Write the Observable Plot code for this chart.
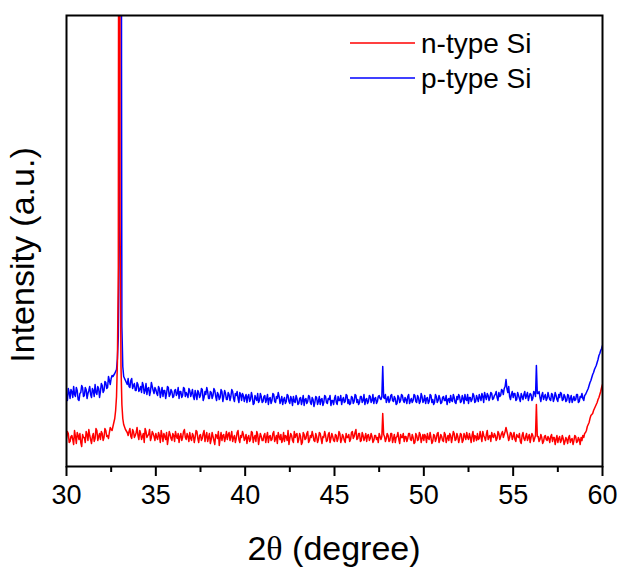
<!DOCTYPE html>
<html>
<head>
<meta charset="utf-8">
<script src="https://cdn.jsdelivr.net/npm/d3@7"></script>
<script src="https://cdn.jsdelivr.net/npm/@observablehq/plot@0.6"></script>
<style>
  html, body { margin: 0; padding: 0; background: #fff; }
  #chart { width: 621px; height: 568px; }
</style>
</head>
<body>
<div id="chart"></div>
<script>
// 2θ scan: readings at 30.00, 30.10, ... (main) and 30.05, 30.15, ... (mid)
// null = region covered by the finer peak arrays
const thetaStart = 30, thetaStep = 0.1;

// n-type Si intensity (a.u.) at 30.0 + 0.1 i
const nType = [
  28, 33, 25, 31, 22, 30, 34, 27, 24, 32,
  29, 35, 26, 31, 23, 33, 28, 36, 30, 27,
  33, 29, 36, 31, 34, 37, null, null, null, null,
  null, null, null, null, null, 35, 30, 37, 29, 34,
  31, 36, 27, 33, 38, 29, 32, 26, 35, 30,
  33, 27, 31, 36, 25, 30, 34, 28, 32, 26,
  31, 35, 28, 24, 33, 29, 37, 27, 30, 34,
  26, 31, 29, 35, 24, 32, 28, 36, 30, 25,
  33, 27, 30, 22, 31, 35, 28, 26, 32, 29,
  27, 34, 30, 25, 31, 28, 36, 24, 29, 32,
  28, 23, 31, 27, 34, 29, 25, 32, 28, 30,
  26, 33, 29, 24, 31, 27, 35, 28, 23, 30,
  32, 27, 25, 30, 36, 28, 31, 24, 29, 33,
  27, 30, 24, 32, 28, 35, 26, 29, 31, 25,
  30, 27, 33, 23, 29, 31, 26, 34, 28, 30,
  25, 31, 28, 33, 27, 30, 24, 29, 32, 27,
  35, 30, 37, 28, 33, 26, 31, 29, 25, 32,
  28, 30, 26, 31, 29, 33, 27, 53, 30, 28,
  31, 26, 33, 28, 24, 30, 27, 32, 29, 25,
  30, 28, 33, 26, 29, 24, 31, 27, 32, 28,
  26, 30, 33, 27, 29, 25, 31, 28, 34, 27,
  30, 25, 32, 28, 26, 31, 29, 33, 27, 30,
  28, 32, 26, 30, 34, 27, 29, 31, 25, 30,
  33, 28, 30, 35, 29, 32, 27, 31, 34, 29,
  31, 28, 33, 30, 35, 32, 39, 31, 29, 33,
  30, 27, 32, 29, 25, 31, 28, 30, 26, 32,
  29, 31, 28, 62, 30, 27, 29, 25, 31, 26,
  28, 30, 25, 29, 27, 24, 30, 26, 28, 25,
  27, 29, 24, 28, 26, 30, 25, 27, 29, 31,
  33, 36, 42, 48, 52, 56, 60, 64, 69, 75,
  82
];
// n-type Si intensity at 30.05 + 0.1 i
const nTypeMid = [
  35, 24, 30, 27, 36, 23, 31, 33, 20, 29,
  24, 32, 37, 27, 30, 25, 38, 26, 33, 35,
  26, 38, 30, 28, 39, 36, null, null, null, null,
  null, null, null, null, 31, 38, 28, 35, 31, 39,
  27, 33, 30, 24, 35, 31, 37, 29, 33, 26,
  29, 34, 24, 31, 33, 27, 22, 35, 28, 33,
  25, 30, 33, 30, 26, 35, 29, 33, 25, 28,
  33, 24, 36, 28, 31, 26, 33, 25, 34, 29,
  23, 34, 26, 32, 28, 21, 34, 31, 25, 35,
  32, 26, 35, 29, 24, 34, 27, 31, 35, 26,
  32, 29, 25, 35, 24, 31, 35, 22, 33, 26,
  31, 24, 34, 30, 26, 33, 25, 31, 34, 27,
  24, 34, 31, 26, 22, 33, 26, 35, 32, 24,
  33, 22, 34, 27, 33, 24, 31, 35, 26, 33,
  24, 34, 28, 30, 35, 25, 32, 24, 33, 26,
  32, 25, 35, 24, 32, 26, 33, 29, 25, 34,
  28, 34, 27, 33, 25, 34, 26, 33, 31, 26,
  33, 24, 31, 27, 24, 30, 30, 32, 25, 33,
  25, 33, 24, 32, 29, 34, 23, 29, 33, 30,
  25, 33, 27, 32, 23, 33, 26, 34, 24, 32,
  32, 24, 28, 34, 23, 32, 25, 33, 24, 32,
  26, 34, 24, 31, 33, 24, 35, 26, 33, 24,
  33, 24, 33, 27, 29, 33, 24, 35, 31, 26,
  27, 35, 25, 31, 26, 36, 30, 25, 30, 33,
  26, 35, 27, 33, 29, 35, 35, 26, 34, 27,
  34, 25, 30, 33, 23, 34, 26, 33, 29, 24,
  33, 25, 31, 30, 25, 32, 23, 30, 27, 30,
  24, 32, 29, 22, 31, 28, 24, 31, 22, 29,
  23, 31, 27, 22, 31, 24, 29, 22, 26, 29,
  34, 40, 44, 51, 53, 58, 62, 67, 72, 79
];

// p-type Si intensity (a.u.) at 30.0 + 0.1 i
const pType = [
  72, 78, 68, 75, 80, 70, 76, 66, 74, 79,
  71, 77, 73, 80, 69, 76, 82, 72, 78, 75,
  81, 76, 84, 79, 86, 88, null, null, null, null,
  null, null, null, null, null, 80, 86, 78, 83, 76,
  82, 77, 74, 81, 76, 72, 79, 75, 80, 73,
  77, 71, 78, 74, 70, 76, 73, 79, 72, 75,
  70, 77, 73, 68, 75, 71, 78, 74, 69, 76,
  73, 70, 76, 67, 74, 71, 77, 69, 72, 75,
  68, 74, 71, 76, 66, 72, 69, 75, 70, 73,
  67, 72, 70, 75, 65, 71, 68, 74, 66, 71,
  69, 64, 72, 67, 70, 63, 68, 73, 66, 70,
  65, 71, 67, 62, 69, 66, 72, 64, 68, 70,
  66, 62, 69, 65, 71, 63, 67, 70, 64, 68,
  63, 69, 66, 61, 68, 65, 70, 62, 67, 64,
  69, 65, 62, 68, 64, 70, 63, 67, 61, 66,
  68, 64, 70, 66, 62, 69, 65, 71, 67, 63,
  69, 65, 71, 67, 64, 70, 66, 62, 68, 65,
  70, 66, 63, 69, 65, 71, 67, 100, 68, 64,
  70, 66, 72, 65, 68, 63, 69, 66, 71, 64,
  67, 70, 63, 68, 66, 71, 64, 69, 65, 70,
  66, 63, 69, 65, 71, 67, 64, 70, 66, 68,
  64, 70, 66, 62, 68, 71, 65, 69, 63, 67,
  70, 65, 68, 72, 66, 63, 69, 67, 71, 65,
  68, 72, 66, 70, 74, 67, 71, 69, 73, 68,
  72, 69, 74, 71, 76, 78, 87, 74, 70, 72,
  69, 73, 67, 71, 65, 70, 72, 68, 74, 70,
  72, 68, 74, 101, 73, 69, 71, 67, 72, 68,
  70, 66, 72, 68, 71, 65, 69, 73, 67, 70,
  66, 71, 68, 64, 70, 67, 72, 65, 69, 68,
  71, 74, 78, 84, 89, 94, 99, 104, 111, 116,
  121
];
// p-type Si intensity at 30.05 + 0.1 i
const pTypeMid = [
  66, 74, 77, 69, 72, 79, 67, 73, 81, 70,
  79, 68, 76, 72, 78, 70, 74, 80, 69, 83,
  74, 85, 78, 90, 82, 91, null, null, null, null,
  null, null, null, null, 88, 79, 88, 81, 76, 84,
  75, 80, 84, 73, 83, 78, 71, 84, 76, 79,
  73, 80, 69, 79, 76, 68, 80, 70, 77, 69,
  76, 71, 79, 75, 69, 79, 70, 72, 78, 70,
  77, 67, 72, 76, 69, 78, 66, 75, 79, 68,
  75, 68, 78, 70, 74, 67, 77, 65, 76, 67,
  74, 66, 77, 68, 73, 75, 64, 72, 73, 65,
  72, 70, 65, 74, 62, 71, 66, 64, 73, 64,
  70, 64, 72, 68, 63, 73, 65, 70, 74, 63,
  70, 67, 63, 72, 65, 70, 61, 65, 71, 62,
  68, 62, 71, 67, 63, 71, 64, 69, 60, 70,
  62, 70, 67, 61, 71, 64, 68, 71, 66, 62,
  71, 62, 66, 71, 67, 64, 72, 63, 62, 70,
  63, 72, 64, 62, 70, 64, 72, 67, 63, 71,
  64, 72, 68, 63, 70, 68, 70, 69, 72, 67,
  64, 71, 66, 70, 62, 71, 64, 72, 66, 69,
  63, 72, 66, 64, 72, 65, 71, 63, 73, 64,
  71, 68, 63, 72, 64, 62, 72, 64, 71, 63,
  69, 66, 71, 67, 64, 66, 72, 64, 70, 72,
  64, 71, 63, 67, 72, 69, 65, 73, 64, 71,
  65, 69, 73, 64, 70, 73, 66, 74, 67, 71,
  75, 66, 70, 77, 72, 80, 78, 80, 67, 75,
  73, 66, 74, 68, 73, 67, 75, 71, 66, 73,
  66, 75, 70, 73, 75, 65, 74, 70, 66, 74,
  67, 73, 65, 74, 67, 72, 74, 66, 72, 65,
  72, 64, 71, 67, 66, 72, 64, 70, 73, 66,
  72, 76, 81, 86, 92, 97, 101, 107, 113, 118
];

// main reflection near 33°, finer sampling
const nPeakTheta = [32.6, 32.7, 32.75, 32.8, 32.85, 32.9, 32.93, 32.95, 32.97, 33.0, 33.05, 33.1, 33.15, 33.2, 33.3, 33.4];
const nPeakValue = [40, 48, 56, 70, 105, 200, 800, 3000, 800, 240, 100, 62, 48, 42, 37, 34];
const pPeakTheta = [32.6, 32.7, 32.8, 32.85, 32.9, 32.95, 32.98, 33.01, 33.03, 33.05, 33.08, 33.1, 33.15, 33.2, 33.3, 33.4];
const pPeakValue = [90, 93, 97, 108, 130, 220, 600, 1500, 3000, 1500, 400, 140, 100, 90, 86, 82];

const seriesNames = ["n-type Si", "p-type Si"];
const seriesColors = ["#ff0000", "#0000ff"];
const majorTicks = [30, 35, 40, 45, 50, 55, 60];
const minorTicks = [32.5, 37.5, 42.5, 47.5, 52.5, 57.5];
const xLabel = ["2", "θ", " (degree)"];
const yLabel = "Intensity (a.u.)";

function build(values, mids, peakT, peakV) {
  const rows = [];
  values.forEach((v, i) => { if (v !== null) rows.push({t: +(thetaStart + i * thetaStep).toFixed(3), v}); });
  mids.forEach((v, i) => { if (v !== null) rows.push({t: +(thetaStart + thetaStep / 2 + i * thetaStep).toFixed(3), v}); });
  peakT.forEach((t, i) => rows.push({t, v: peakV[i]}));
  rows.sort((a, b) => a.t - b.t);
  return rows;
}
const nData = build(nType, nTypeMid, nPeakTheta, nPeakValue);
const pData = build(pType, pTypeMid, pPeakTheta, pPeakValue);

const W = 621, H = 568, mL = 66, mR = 19, mT = 15, mB = 102;
const font = "'Liberation Sans', Arial, sans-serif";

const plot = Plot.plot({
  width: W, height: H,
  marginLeft: mL, marginRight: mR, marginTop: mT, marginBottom: mB,
  style: {fontFamily: font, background: "white", color: "black"},
  x: {domain: [30, 60], label: null},
  y: {domain: [0, 451], axis: null},
  marks: [
    Plot.line(pData, {x: "t", y: "v", stroke: seriesColors[1], strokeWidth: 1.5, clip: true}),
    Plot.line(nData, {x: "t", y: "v", stroke: seriesColors[0], strokeWidth: 1.5, clip: true}),
    Plot.axisX({ticks: minorTicks, tickSize: 6, tickFormat: () => "", strokeWidth: 2, label: null}),
    Plot.axisX({ticks: majorTicks, tickSize: 10, tickPadding: 8, fontSize: 27, strokeWidth: 2, label: null}),
    Plot.frame({stroke: "black", strokeWidth: 2}),
    Plot.text([yLabel], {frameAnchor: "left", textAnchor: "middle", dx: -43, dy: 14, rotate: -90, fontSize: 34, fill: "black"})
  ]
});
document.getElementById("chart").appendChild(plot);

const svg = d3.select(plot);
// x-axis title
const xt = svg.append("text")
  .attr("x", (mL + W - mR) / 2).attr("y", 560)
  .attr("text-anchor", "middle")
  .attr("font-family", font).attr("font-size", 34).attr("fill", "black");
xt.append("tspan").text(xLabel[0]);
xt.append("tspan").attr("font-family", "'Liberation Serif', 'Times New Roman', serif").text(xLabel[1]);
xt.append("tspan").text(xLabel[2]);

// legend
const lg = svg.append("g").attr("text-anchor", "start");
seriesNames.forEach((name, i) => {
  const y = 43 + i * 35;
  lg.append("line").attr("x1", 350).attr("x2", 415).attr("y1", y).attr("y2", y)
    .attr("stroke", seriesColors[i]).attr("stroke-width", 1.5);
  lg.append("text").attr("x", 421).attr("y", y + 10).attr("text-anchor", "start")
    .attr("font-family", font).attr("font-size", 28).attr("fill", "black").text(name);
});
</script>
</body>
</html>
